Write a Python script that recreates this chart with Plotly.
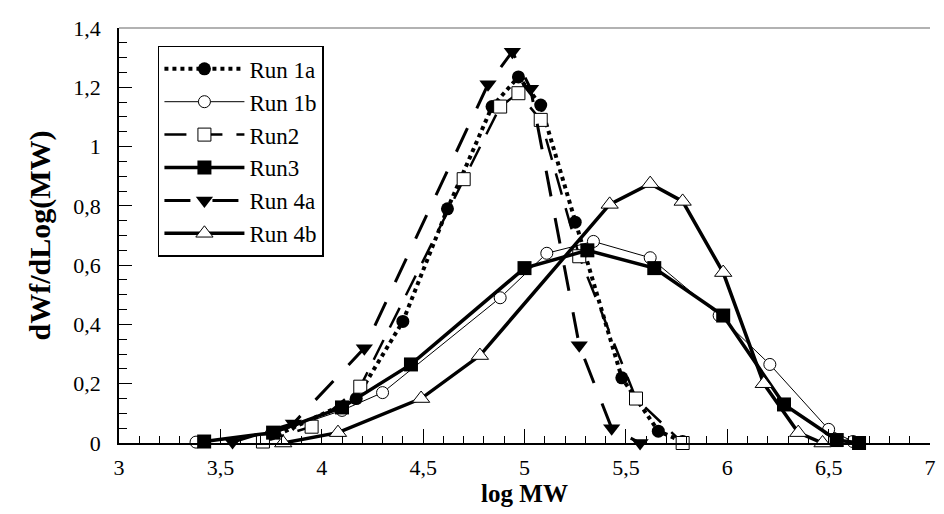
import plotly.graph_objects as go

run1a_x = [3.71, 4.17, 4.40, 4.62, 4.84, 4.97, 5.08, 5.25, 5.48, 5.66, 5.78]
run1a_y = [0.005, 0.15, 0.41, 0.79, 1.135, 1.235, 1.14, 0.745, 0.22, 0.04, 0.005]

run1b_x = [3.38, 3.75, 4.10, 4.30, 4.88, 5.11, 5.34, 5.62, 5.96, 6.21, 6.50, 6.62]
run1b_y = [0.003, 0.03, 0.11, 0.17, 0.49, 0.64, 0.68, 0.625, 0.43, 0.265, 0.046, 0.005]

run2_x = [3.71, 3.95, 4.19, 4.70, 4.88, 4.97, 5.08, 5.27, 5.55, 5.78]
run2_y = [0.005, 0.055, 0.19, 0.89, 1.135, 1.18, 1.09, 0.63, 0.15, 0.0]

run3_x = [3.42, 3.76, 4.10, 4.44, 5.00, 5.31, 5.64, 5.98, 6.28, 6.54, 6.65]
run3_y = [0.005, 0.035, 0.12, 0.265, 0.59, 0.65, 0.59, 0.43, 0.13, 0.01, 0.0]

run4a_x = [3.56, 3.86, 4.21, 4.82, 4.94, 5.03, 5.27, 5.43, 5.57]
run4a_y = [0.003, 0.066, 0.32, 1.21, 1.32, 1.195, 0.33, 0.05, 0.0]

run4b_x = [3.81, 4.08, 4.49, 4.78, 5.42, 5.62, 5.78, 5.98, 6.18, 6.35, 6.47]
run4b_y = [0.0, 0.035, 0.15, 0.295, 0.805, 0.875, 0.815, 0.575, 0.20, 0.035, 0.0]

names = ["Run 1a", "Run 1b", "Run2", "Run3", "Run 4a", "Run 4b"]
FONT = "Liberation Serif"

fig = go.Figure()

def add(name, x, y, line, marker):
    fig.add_trace(go.Scatter(x=x, y=y, name=name, mode="lines+markers",
                             line=line, marker=marker, cliponaxis=False))

add(names[0], run1a_x, run1a_y,
    dict(color="black", width=4, dash="dot"),
    dict(symbol="circle", size=13, color="black"))
add(names[1], run1b_x, run1b_y,
    dict(color="black", width=1),
    dict(symbol="circle", size=12, color="white", line=dict(color="black", width=1)))
add(names[2], run2_x, run2_y,
    dict(color="black", width=2.5, dash="22px,14px"),
    dict(symbol="square", size=13, color="white", line=dict(color="black", width=1)))
add(names[3], run3_x, run3_y,
    dict(color="black", width=3.5),
    dict(symbol="square", size=14, color="black"))
add(names[4], run4a_x, run4a_y,
    dict(color="black", width=3, dash="26px,22px"),
    dict(symbol="triangle-down", size=15, color="black"))
add(names[5], run4b_x, run4b_y,
    dict(color="black", width=3.5),
    dict(symbol="triangle-up", size=15, color="white", line=dict(color="black", width=1)))

# page body has an 8px margin; figure sized/offset so the plot area lands at x 119-930, y 20-443
fig.update_layout(
    width=936, height=506,
    margin=dict(l=111, r=8, t=12, b=71),
    plot_bgcolor="white", paper_bgcolor="white",
    separators=", ",
    font=dict(family=FONT, size=22, color="black"),
    showlegend=True,
    legend=dict(x=0.048, y=0.957, xanchor="left", yanchor="top",
                bgcolor="white", bordercolor="black", borderwidth=1.5,
                font=dict(family=FONT, size=23), itemwidth=80,
                tracegroupgap=0),
    xaxis=dict(range=[3, 7], dtick=0.5, tick0=3, showgrid=False, zeroline=False,
               showline=True, linecolor="black", linewidth=1.5,
               ticks="inside", ticklen=14, tickcolor="black",
               minor=dict(dtick=0.1, ticks="inside", ticklen=7, tickcolor="black"),
               tickfont=dict(family=FONT, size=22), ticklabelstandoff=4,
               ticklabeloverflow="allow",
               title=dict(text="<b>log MW</b>", font=dict(family=FONT, size=25), standoff=0)),
    yaxis=dict(range=[0, 1.4], dtick=0.2, showgrid=False, zeroline=False,
               showline=True, linecolor="black", linewidth=1.5,
               ticks="inside", ticklen=13, tickcolor="black",
               minor=dict(dtick=0.05, ticks="inside", ticklen=8, tickcolor="black"),
               tickfont=dict(family=FONT, size=22), ticklabelstandoff=12,
               ticklabeloverflow="allow",
               title=dict(text="<b>dWf/dLog(MW)</b>", font=dict(family=FONT, size=30), standoff=14)),
)

fig.add_shape(type="line", xref="paper", yref="paper", x0=0, x1=1, y0=1, y1=1,
              line=dict(color="#999999", width=1.5))

fig.write_html("out.html")
